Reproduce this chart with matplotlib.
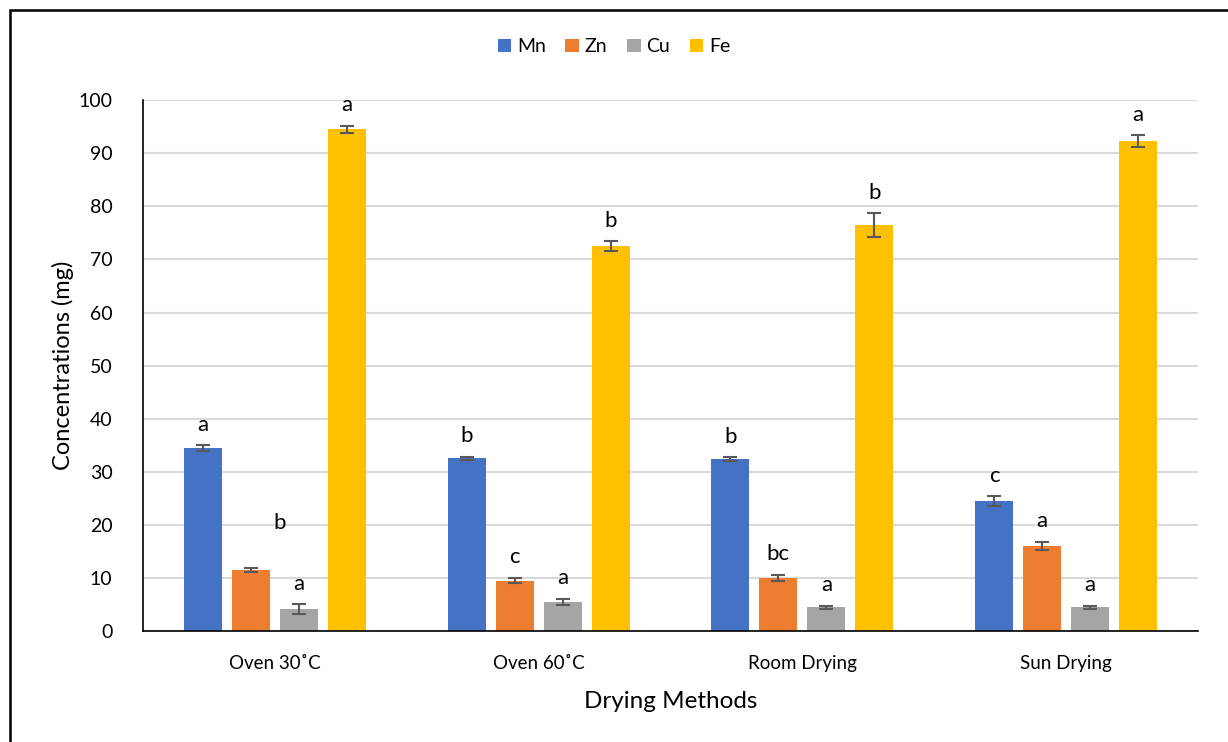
import numpy as np
import matplotlib
matplotlib.use("Agg")
import matplotlib.pyplot as plt
from matplotlib.patches import Rectangle

plt.rcParams['font.family'] = ['Lato', 'DejaVu Sans']

methods = ["Oven 30˚C", "Oven 60˚C", "Room Drying", "Sun Drying"]
elements = ["Mn", "Zn", "Cu", "Fe"]
colors = ["#4472c4", "#ed7d31", "#a5a5a5", "#ffc000"]

mn = [34.5, 32.5, 32.4, 24.5]
zn = [11.5, 9.5, 10.0, 16.0]
cu = [4.1, 5.5, 4.5, 4.5]
fe = [94.5, 72.5, 76.5, 92.3]

mn_err = [0.5, 0.3, 0.3, 0.9]
zn_err = [0.3, 0.5, 0.6, 0.8]
cu_err = [0.9, 0.6, 0.3, 0.3]
fe_err = [0.7, 0.9, 2.2, 1.1]

mn_lbl = ["a", "b", "b", "c"]
zn_lbl = ["b", "c", "bc", "a"]
cu_lbl = ["a", "a", "a", "a"]
fe_lbl = ["a", "b", "b", "a"]

values = [mn, zn, cu, fe]
errors = [mn_err, zn_err, cu_err, fe_err]
letters = [mn_lbl, zn_lbl, cu_lbl, fe_lbl]

fig = plt.figure(figsize=(12.28, 7.42), dpi=100)
ax = fig.add_axes([0.1165, 0.1496, 0.859, 0.7154])

x = np.arange(len(methods))
w = 0.144
step = 0.182
for i in range(4):
    pos = x + (i - 1.5) * step
    ax.bar(pos, values[i], w, color=colors[i], label=elements[i], zorder=2)
    ax.errorbar(pos, values[i], yerr=errors[i], fmt='none', ecolor='#595959',
                elinewidth=1.5, capsize=5, capthick=1.5, zorder=3)
    for j in range(len(methods)):
        top = values[i][j] + errors[i][j] + 2.0
        xp = pos[j]
        if i == 1 and j == 0:
            # label sits higher and to the right in the original
            top = 18.4
            xp = pos[j] + 0.11
        ax.text(xp, top, letters[i][j], ha='center', va='bottom', fontsize=16)

ax.set_xlim(-0.5, 3.5)
ax.set_ylim(0, 100)
ax.set_yticks(range(0, 101, 10))
ax.set_xticks(x)
ax.set_xticklabels(methods)
ax.tick_params(axis='x', length=0, labelsize=13.5, pad=17)
ax.tick_params(axis='y', length=0, labelsize=14, pad=22)
ax.grid(axis='y', color='#d9d9d9', linewidth=1.5, zorder=0)
ax.set_axisbelow(True)
for s in ['top', 'right']:
    ax.spines[s].set_visible(False)
ax.spines['left'].set_color('black')
ax.spines['bottom'].set_color('black')
ax.spines['left'].set_linewidth(1.2)
ax.spines['bottom'].set_linewidth(1.2)

ax.set_xlabel("Drying Methods", fontsize=17.5, labelpad=14)
ax.set_ylabel("Concentrations (mg)", fontsize=17, labelpad=3)

fig.legend(loc='center', bbox_to_anchor=(0.5, 0.937), ncol=4, frameon=False,
           fontsize=14, handlelength=0.7, handleheight=0.7, handletextpad=0.3,
           columnspacing=1.0)

fig.patches.append(Rectangle((10 / 1228, -0.1), 1.2, 1.1 - 10 / 742,
                             transform=fig.transFigure, fill=False,
                             edgecolor='black', linewidth=1.8))

fig.savefig("out.png", dpi=100)
